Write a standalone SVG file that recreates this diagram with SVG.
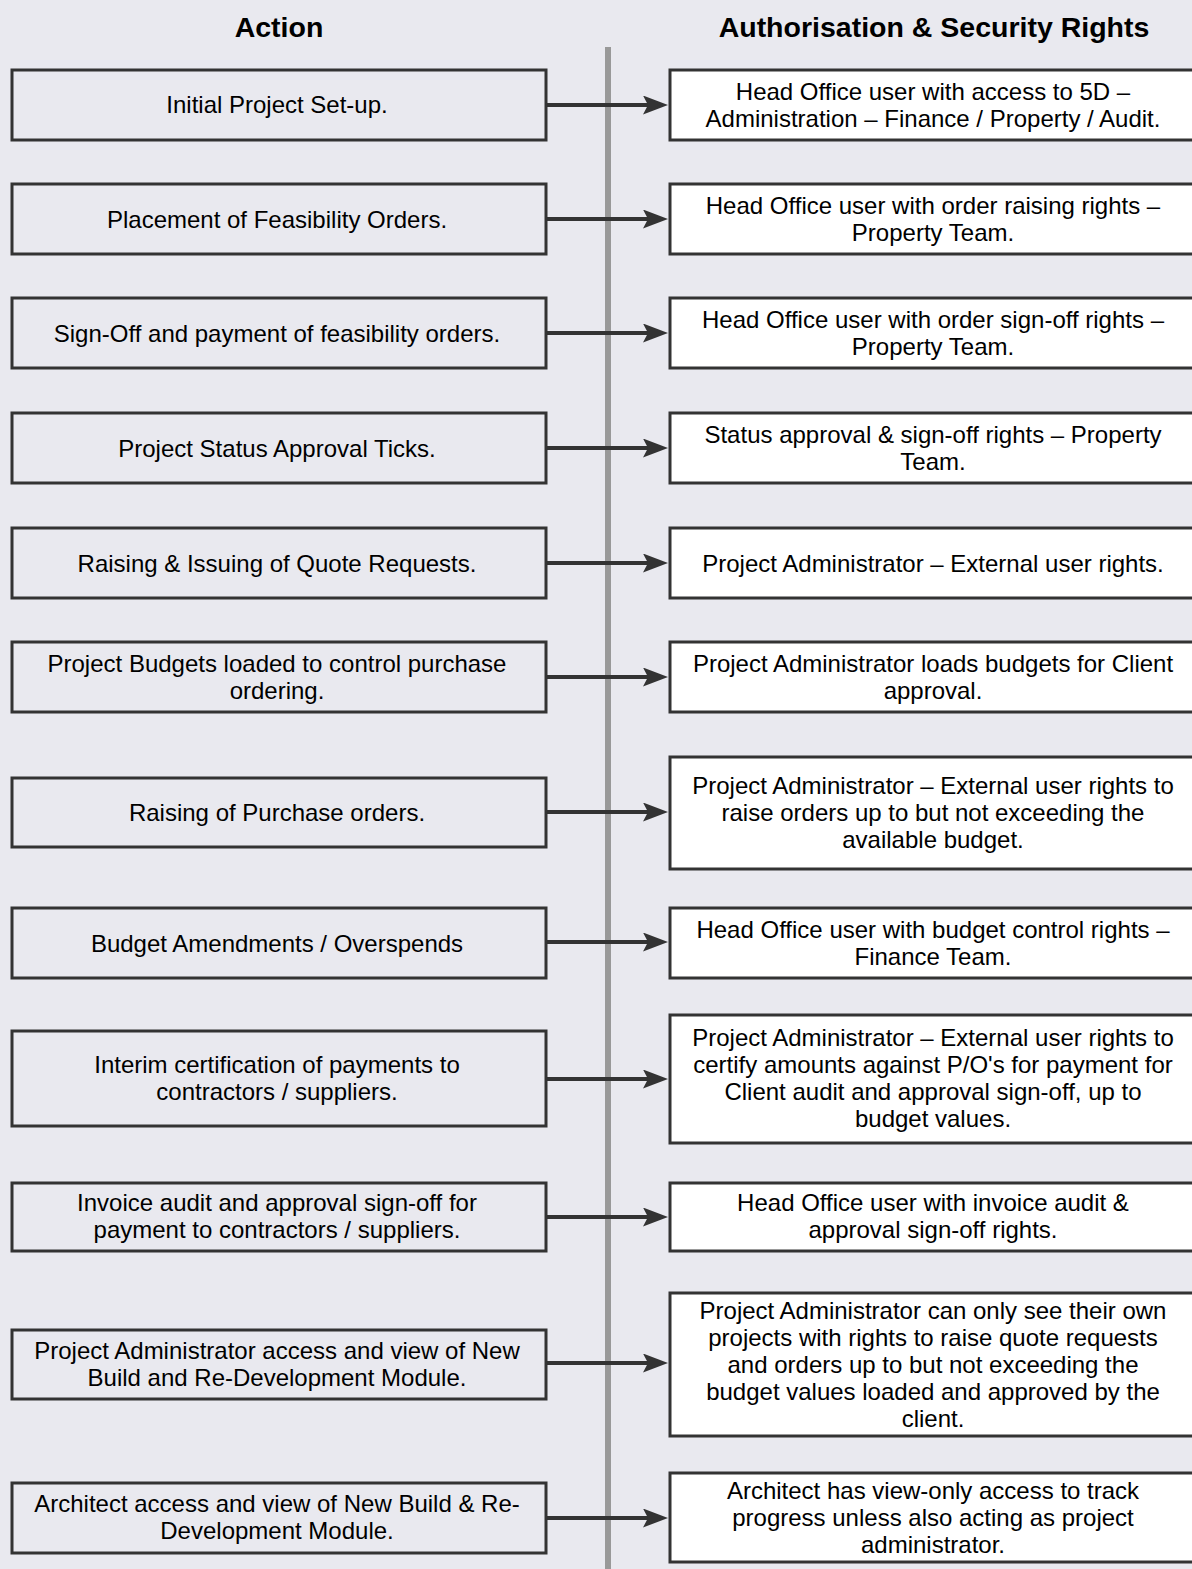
<svg xmlns="http://www.w3.org/2000/svg" width="1192" height="1569" viewBox="0 0 1192 1569">
<defs>
<style>
.bg{fill:#e9e9ef}
.l{fill:#e9e9ef;stroke:#333;stroke-width:3}
.r{fill:#fff;stroke:#333;stroke-width:3}
text{font-family:"Liberation Sans",Arial,sans-serif;font-size:24px;fill:#000;text-anchor:middle}
.h{font-size:28.5px;font-weight:bold}
.c{stroke:#333;stroke-width:4;fill:none;marker-end:url(#ah)}
.lt{}
</style>
<marker id="ah" markerUnits="userSpaceOnUse" markerWidth="26" markerHeight="20" refX="9" refY="9.5" orient="auto">
<path d="M0,0 L25,9.5 L0,19 L5,9.5 Z" fill="#333"/>
</marker>
</defs>
<rect class="bg" x="0" y="0" width="1192" height="1569"/>
<line x1="608" y1="47" x2="608" y2="1569" stroke="#999" stroke-width="6"/>
<text class="h" x="279" y="37">Action</text>
<text class="h" x="934" y="37">Authorisation &amp; Security Rights</text>

<g id="connectors">
<line class="c" x1="547" y1="105" x2="652" y2="105"/>
<line class="c" x1="547" y1="219" x2="652" y2="219"/>
<line class="c" x1="547" y1="333" x2="652" y2="333"/>
<line class="c" x1="547" y1="448" x2="652" y2="448"/>
<line class="c" x1="547" y1="563" x2="652" y2="563"/>
<line class="c" x1="547" y1="677" x2="652" y2="677"/>
<line class="c" x1="547" y1="812" x2="652" y2="812"/>
<line class="c" x1="547" y1="942" x2="652" y2="942"/>
<line class="c" x1="547" y1="1079" x2="652" y2="1079"/>
<line class="c" x1="547" y1="1217" x2="652" y2="1217"/>
<line class="c" x1="547" y1="1363" x2="652" y2="1363"/>
<line class="c" x1="547" y1="1518" x2="652" y2="1518"/>
</g>

<g id="a1"><rect class="l" x="12" y="70" width="534" height="70"/><text x="277" y="113">Initial Project Set-up.</text></g>
<g id="r1"><rect class="r" x="670" y="70" width="540" height="70"/><text x="933" y="100">Head Office user with access to 5D –</text><text x="933" y="127">Administration – Finance / Property / Audit.</text></g>

<g id="a2"><rect class="l" x="12" y="184" width="534" height="70"/><text x="277" y="227.5">Placement of Feasibility Orders.</text></g>
<g id="r2"><rect class="r" x="670" y="184" width="540" height="70"/><text x="933" y="214">Head Office user with order raising rights –</text><text x="933" y="241">Property Team.</text></g>

<g id="a3"><rect class="l" x="12" y="298" width="534" height="70"/><text x="277" y="341.5">Sign-Off and payment of feasibility orders.</text></g>
<g id="r3"><rect class="r" x="670" y="298" width="540" height="70"/><text x="933" y="328">Head Office user with order sign-off rights –</text><text x="933" y="355">Property Team.</text></g>

<g id="a4"><rect class="l" x="12" y="413" width="534" height="70"/><text x="277" y="456.5">Project Status Approval Ticks.</text></g>
<g id="r4"><rect class="r" x="670" y="413" width="540" height="70"/><text x="933" y="443">Status approval &amp; sign-off rights – Property</text><text x="933" y="470">Team.</text></g>

<g id="a5"><rect class="l" x="12" y="528" width="534" height="70"/><text x="277" y="571.5">Raising &amp; Issuing of Quote Requests.</text></g>
<g id="r5"><rect class="r" x="670" y="528" width="540" height="70"/><text x="933" y="571.5">Project Administrator – External user rights.</text></g>

<g id="a6"><rect class="l" x="12" y="642" width="534" height="70"/><text x="277" y="672">Project Budgets loaded to control purchase</text><text x="277" y="699">ordering.</text></g>
<g id="r6"><rect class="r" x="670" y="642" width="540" height="70"/><text x="933" y="672">Project Administrator loads budgets for Client</text><text x="933" y="699">approval.</text></g>

<g id="a7"><rect class="l" x="12" y="778" width="534" height="69"/><text x="277" y="821">Raising of Purchase orders.</text></g>
<g id="r7"><rect class="r" x="670" y="757" width="540" height="112"/><text x="933" y="794">Project Administrator – External user rights to</text><text x="933" y="821">raise orders up to but not exceeding the</text><text x="933" y="848">available budget.</text></g>

<g id="a8"><rect class="l" x="12" y="908" width="534" height="70"/><text x="277" y="951.5">Budget Amendments / Overspends</text></g>
<g id="r8"><rect class="r" x="670" y="908" width="540" height="70"/><text x="933" y="938">Head Office user with budget control rights –</text><text x="933" y="965">Finance Team.</text></g>

<g id="a9"><rect class="l" x="12" y="1031" width="534" height="95"/><text x="277" y="1072.5">Interim certification of payments to</text><text x="277" y="1099.5">contractors / suppliers.</text></g>
<g id="r9"><rect class="r" x="670" y="1015" width="540" height="128"/><text x="933" y="1046">Project Administrator – External user rights to</text><text x="933" y="1073">certify amounts against P/O's for payment for</text><text x="933" y="1100">Client audit and approval sign-off, up to</text><text x="933" y="1127">budget values.</text></g>

<g id="a10"><rect class="l" x="12" y="1183" width="534" height="68"/><text x="277" y="1211">Invoice audit and approval sign-off for</text><text x="277" y="1238">payment to contractors / suppliers.</text></g>
<g id="r10"><rect class="r" x="670" y="1183" width="540" height="68"/><text x="933" y="1211">Head Office user with invoice audit &amp;</text><text x="933" y="1238">approval sign-off rights.</text></g>

<g id="a11"><rect class="l" x="12" y="1330" width="534" height="69"/><text x="277" y="1359">Project Administrator access and view of New</text><text x="277" y="1386">Build and Re-Development Module.</text></g>
<g id="r11"><rect class="r" x="670" y="1293" width="540" height="143"/><text x="933" y="1319">Project Administrator can only see their own</text><text x="933" y="1346">projects with rights to raise quote requests</text><text x="933" y="1373">and orders up to but not exceeding the</text><text x="933" y="1400">budget values loaded and approved by the</text><text x="933" y="1427">client.</text></g>

<g id="a12"><rect class="l" x="12" y="1483" width="534" height="70"/><text x="277" y="1512">Architect access and view of New Build &amp; Re-</text><text x="277" y="1539">Development Module.</text></g>
<g id="r12"><rect class="r" x="670" y="1473" width="540" height="89"/><text x="933" y="1499">Architect has view-only access to track</text><text x="933" y="1526">progress unless also acting as project</text><text x="933" y="1553">administrator.</text></g>
</svg>
